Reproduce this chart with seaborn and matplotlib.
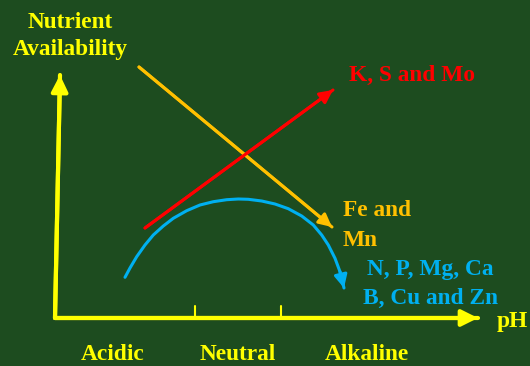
import matplotlib
matplotlib.use("Agg")
import matplotlib.pyplot as plt
import seaborn as sns
import pandas as pd

# Diagram points (x to the right, y downwards, figure pixels)
axis_x = [60, 55, 478]
axis_y = [75, 318, 318]
tick_x = [195, 281]
tick_top = 306

red_x = [145, 333]          # K, S and Mo
red_y = [228, 90]
orange_x = [139, 332]       # Fe and Mn
orange_y = [67, 227]
# N, P, Mg, Ca, B, Cu and Zn
blue_x = [125, 130, 136.7, 145, 153.3, 163.3, 173.3, 186.7, 200, 213.3, 226.7, 238.3,
          248.3, 261.7, 275, 288.3, 301.7, 313.3, 321.7, 328.3, 335, 340, 344]
blue_y = [277.3, 268, 256.7, 245, 235, 226, 218.3, 210.7, 205, 201.7, 199.7, 199,
          199.3, 201, 204, 208.7, 216, 225, 235, 245, 258.3, 271.7, 288]

ph_labels = ["Acidic", "Neutral", "Alkaline"]
ph_label_x = [113, 238, 367]

BG = "#1d4c1f"
YELLOW = "#ffff00"
ORANGE = "#ffc000"
RED = "#ff0000"
BLUE = "#00b0f0"

sns.set_style("white")
plt.rcParams['font.family'] = ['Liberation Serif', 'DejaVu Serif']

fig = plt.figure(figsize=(5.3, 3.66), dpi=100, facecolor=BG)
ax = fig.add_axes([0, 0, 1, 1])
ax.set_facecolor(BG)
ax.set_xlim(0, 530)
ax.set_ylim(366, 0)
ax.axis("off")


def arrow_line(xs, ys, color, lw, head=8):
    df = pd.DataFrame({"x": xs, "y": ys})
    sns.lineplot(data=df, x="x", y="y", sort=False, estimator=None,
                 color=color, linewidth=lw, ax=ax)
    ax.annotate("", xy=(xs[-1], ys[-1]), xytext=(xs[-2], ys[-2]),
                arrowprops=dict(arrowstyle="-|>,head_length=0.6,head_width=0.3",
                                color=color, lw=lw, shrinkA=0, shrinkB=0,
                                mutation_scale=head * 1.6))


# axes of the diagram
sns.lineplot(x=axis_x, y=axis_y, sort=False, estimator=None, color=YELLOW, linewidth=3, ax=ax)
for xs, ys in [(axis_x[:2][::-1], axis_y[:2][::-1]), (axis_x[1:], axis_y[1:])]:
    ax.annotate("", xy=(xs[-1], ys[-1]), xytext=(xs[0], ys[0]),
                arrowprops=dict(arrowstyle="-|>,head_length=0.7,head_width=0.35",
                                color=YELLOW, lw=3, shrinkA=0, shrinkB=0, mutation_scale=14))
for tx in tick_x:
    ax.plot([tx, tx], [tick_top, axis_y[-1]], color=YELLOW, lw=1.5)

arrow_line(orange_x, orange_y, ORANGE, 2.2)
arrow_line(red_x, red_y, RED, 2.2)
arrow_line(blue_x, blue_y, BLUE, 2.2)

fs = 16.8
bold = dict(fontsize=fs, fontweight="bold")
ax.text(70, 22, "Nutrient", color=YELLOW, ha="center", va="center", **bold)
ax.text(70, 50, "Availability", color=YELLOW, ha="center", va="center", **bold)
ax.text(349, 75, "K, S and Mo", color=RED, ha="left", va="center", **bold)
ax.text(343, 211, "Fe and", color=ORANGE, ha="left", va="center", **bold)
ax.text(343, 240, "Mn", color=ORANGE, ha="left", va="center", **bold)
ax.text(367, 270, "N, P, Mg, Ca", color=BLUE, ha="left", va="center", **bold)
ax.text(363, 298, "B, Cu and Zn", color=BLUE, ha="left", va="center", **bold)
ax.text(497, 322, "pH", color=YELLOW, ha="left", va="center", **bold)
for lab, lx in zip(ph_labels, ph_label_x):
    ax.text(lx, 355, lab, color=YELLOW, ha="center", va="center", **bold)

fig.savefig("out.png", dpi=100, facecolor=BG)
